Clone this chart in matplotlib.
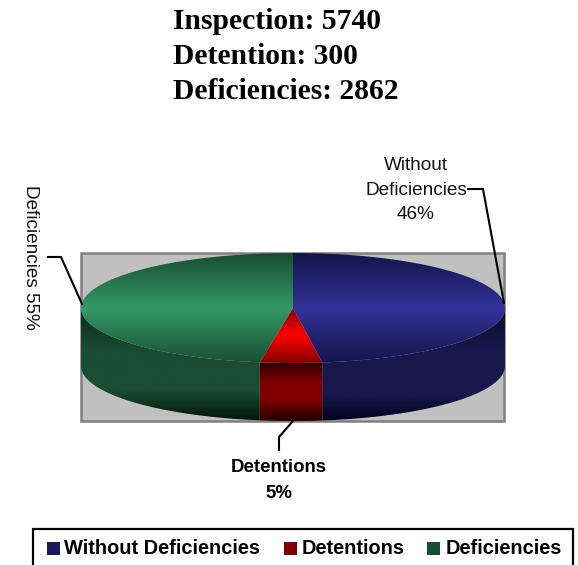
#!/usr/bin/env python3
# 3D look pie with gradients, drawn in pixel coords so it lines up with the reference
import numpy as np
import matplotlib
matplotlib.use('Agg')
import matplotlib.pyplot as plt
from matplotlib.patches import Polygon, Rectangle

W, H = 578, 565

# data
title_lines = ['Inspection: 5740', 'Detention: 300', 'Deficiencies: 2862']
categories = ['Without Deficiencies', 'Detentions', 'Deficiencies']
slice_sizes = [47.8, 4.7, 47.5]
percent_labels = ['46%', '5%', '55%']

# geometry
CX, CY = 293, 308
RX, RY = 212, 55
DEPTH = 58

# gradient stops: (y, colour)
TOP_STOPS = {
    'Without Deficiencies': [(253, '#14144a'), (308, '#333399'), (365, '#14144a')],
    'Detentions': [(308, '#800000'), (335, '#ff0000'), (364, '#800000')],
    'Deficiencies': [(253, '#1a4d33'), (308, '#339966'), (365, '#1a4d33')],
}
SIDE_STOPS = {
    'Without Deficiencies': [(308, '#0a0a28'), (350, '#18184e'), (395, '#18184e'), (421, '#00001c')],
    'Detentions': [(362, '#280000'), (382, '#800000'), (400, '#800000'), (421, '#200000')],
    'Deficiencies': [(308, '#0c261a'), (350, '#1a4d33'), (390, '#1a4d33'), (421, '#001408')],
}
SWATCH = {'Without Deficiencies': [(0, '#1a1a5c'), (0.5, '#333399'), (1, '#1a1a5c')],
          'Detentions': [(0, '#d00000'), (0.4, '#ff0000'), (1, '#800000')],
          'Deficiencies': [(0, '#1a4d33'), (0.5, '#339966'), (1, '#1a4d33')]}


def gradient_fill(ax, patch, stops, extent):
    # vertical gradient clipped to the patch
    x0, x1, y0, y1 = extent
    ys = np.linspace(y0, y1, 256)
    pos = [s[0] for s in stops]
    rgb = np.array([matplotlib.colors.to_rgb(s[1]) for s in stops])
    img = np.stack([np.interp(ys, pos, rgb[:, i]) for i in range(3)], axis=1)[:, None, :]
    im = ax.imshow(img, extent=(x0, x1, y1, y0), origin='upper', aspect='auto',
                   interpolation='bilinear', zorder=patch.get_zorder())
    ax.add_patch(patch)
    patch.set_visible(False)
    im.set_clip_path(patch)


def ellipse_pt(t, dy=0):
    # t in radians, clockwise from 12 o'clock
    return np.column_stack([CX + RX * np.sin(t), CY - RY * np.cos(t) + dy])


plt.rcParams['font.family'] = ['Liberation Sans', 'DejaVu Sans']
fig = plt.figure(figsize=(W / 100, H / 100), dpi=100, facecolor='white')
ax = fig.add_axes([0, 0, 1, 1])

# gray plot area
ax.add_patch(Rectangle((81, 253), 423, 168, facecolor='#c0c0c0', edgecolor='#808080',
                       linewidth=1.8, zorder=1))

edges = np.concatenate([[0], np.cumsum(slice_sizes)]) / np.sum(slice_sizes) * 2 * np.pi

# side walls only for the part facing us (pi/2 .. 3pi/2)
for i, name in enumerate(categories):
    a, b = max(edges[i], np.pi / 2), min(edges[i + 1], 3 * np.pi / 2)
    t = np.linspace(a, b, 120)
    pts = np.vstack([ellipse_pt(t), ellipse_pt(t[::-1], DEPTH)])
    gradient_fill(ax, Polygon(pts, closed=True, zorder=2), SIDE_STOPS[name], (70, 515, 300, 425))

# top face
for i, name in enumerate(categories):
    t = np.linspace(edges[i], edges[i + 1], 200)
    pts = np.vstack([[CX, CY], ellipse_pt(t)])
    gradient_fill(ax, Polygon(pts, closed=True, zorder=3), TOP_STOPS[name], (70, 515, 250, 368))

# title
for line, y in zip(title_lines, [29, 64, 99]):
    ax.text(173, y, line, family='Liberation Serif', fontweight='bold', fontsize=21.3,
            color='black', ha='left', va='baseline')

# data labels
LABEL = 13.7
ax.text(416, 170, 'Without', fontsize=LABEL, ha='center', va='baseline', color='#111111')
ax.text(416, 195, 'Deficiencies', fontsize=LABEL, ha='center', va='baseline', color='#111111')
ax.text(416, 219, percent_labels[0], fontsize=LABEL, ha='center', va='baseline', color='#111111')
ax.text(22, 185, 'Deficiencies ' + percent_labels[2], fontsize=LABEL, rotation=270,
        ha='left', va='top', color='#111111')
ax.text(279, 472, 'Detentions', fontsize=13.4, fontweight='bold', ha='center', va='baseline')
ax.text(279, 498, percent_labels[1], fontsize=13.4, fontweight='bold', ha='center', va='baseline')

# leader lines
ax.plot([468, 483, 504], [189, 189, 303], color='black', lw=1.5, zorder=6, solid_joinstyle='miter')
ax.plot([48, 61, 82], [257, 257, 304], color='black', lw=1.5, zorder=6, solid_joinstyle='miter')
ax.plot([293, 279, 279], [421, 437, 450], color='black', lw=1.5, zorder=6, solid_joinstyle='miter')

# legend box, bottom edge runs off the image
ax.add_patch(Rectangle((33, 529), 540, 45, facecolor='white', edgecolor='black', linewidth=1.6, zorder=4))
for name, sx, tx in zip(categories, [47, 284, 427], [64, 302, 446]):
    gradient_fill(ax, Rectangle((sx, 542), 13, 13, zorder=5), SWATCH[name], (sx, sx + 13, 542, 555))
    ax.text(tx, 554, name, fontsize=14.4, fontweight='bold', ha='left', va='baseline', zorder=5)

ax.set_xlim(0, W)
ax.set_ylim(H, 0)
ax.axis('off')
fig.savefig('out.png', dpi=100, facecolor='white')
